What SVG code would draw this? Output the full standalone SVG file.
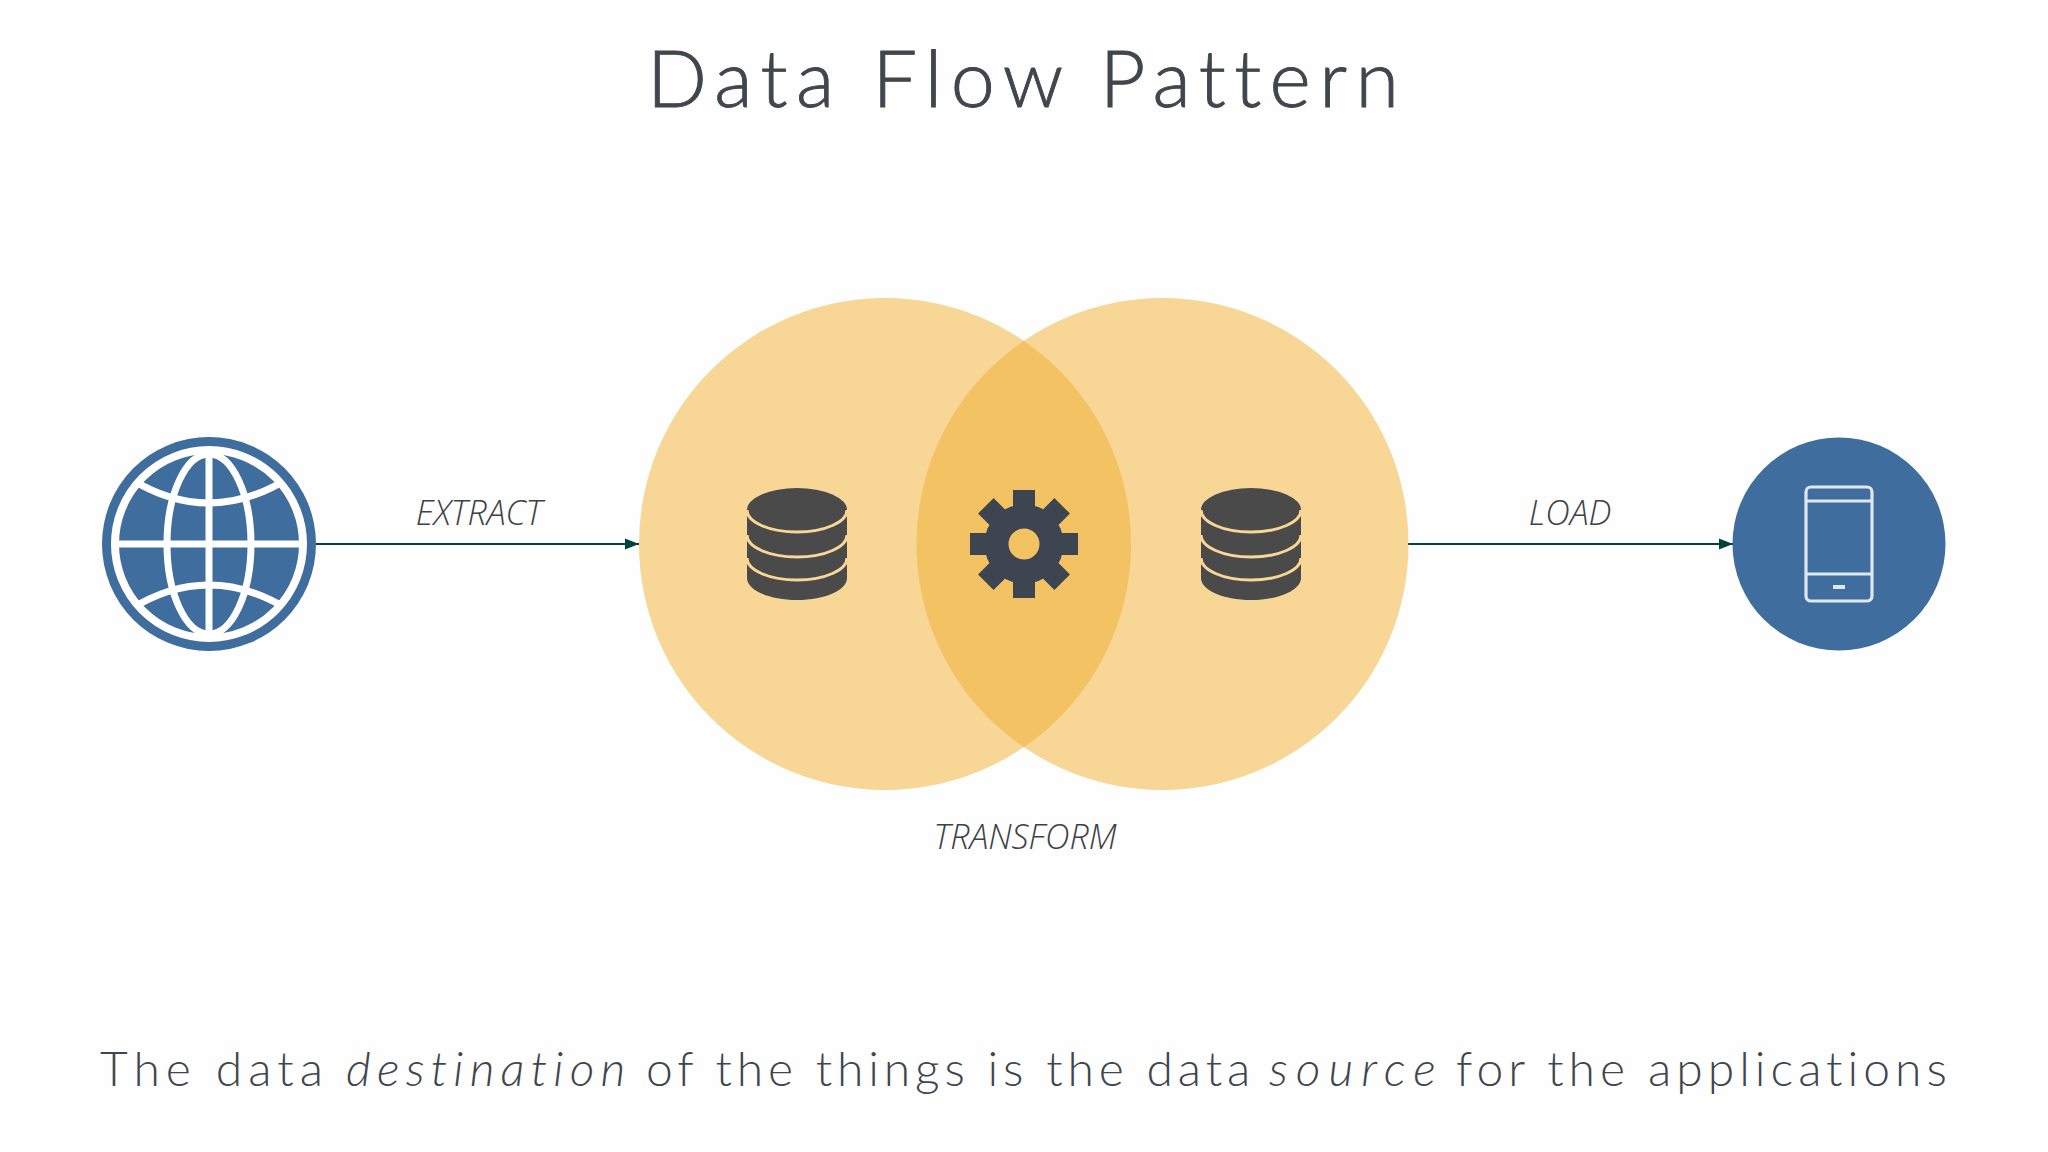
<svg xmlns="http://www.w3.org/2000/svg" width="2048" height="1152" viewBox="0 0 2048 1152">
<style>
text{font-variant-ligatures:none}
.title{font-family:"Lato","Open Sans",sans-serif;font-weight:300;fill:#40464d;stroke:#40464d;stroke-width:.9}
.sub{font-family:"Lato","Open Sans",sans-serif;font-weight:300;font-size:48px;fill:#40464d}
.lab{font-family:"Open Sans","Liberation Sans",sans-serif;font-style:italic;font-weight:350;font-size:34px;fill:#3c4246;text-anchor:middle}
.conn{stroke:#00443f;stroke-width:1.8;fill:none;marker-end:url(#arr)}
.venn{fill:#f0ae2e;fill-opacity:.5}
.db{fill:#4a4a4a}
.dbl{fill:none;stroke:#f7d696;stroke-width:3}
.gl{fill:none;stroke:#fff;stroke-width:7}
</style>
<defs>
<marker id="arr" markerUnits="userSpaceOnUse" markerWidth="14" markerHeight="12" refX="14" refY="6" orient="auto"><path d="M0 0.5L14 6L0 11.5Z" fill="#00443f"/></marker>
<clipPath id="gc"><circle cx="209" cy="544" r="94"/></clipPath>
<g id="dbshape">
<ellipse class="db" cx="0" cy="0" rx="50" ry="22"/>
<path class="db" d="M-50 0V68C-50 80-28 90 0 90S50 80 50 68V0Z"/>
<path class="dbl" d="M-50 0C-50 12-28 22 0 22S50 12 50 0"/>
<path class="dbl" d="M-50 25C-50 37-28 47 0 47S50 37 50 25"/>
<path class="dbl" d="M-50 48C-50 60-28 70 0 70S50 60 50 48"/>
</g>
</defs>
<rect width="2048" height="1152" fill="#fefefe"/>
<g id="title-text"><text class="title" x="647" y="107" font-size="79" textLength="752" lengthAdjust="spacing">Data Flow Pattern</text></g>
<g id="connectors">
<path class="conn" d="M316 544H639"/>
<path class="conn" d="M1408 544H1733"/>
</g>
<g id="transform-venn">
<circle class="venn" cx="885" cy="544" r="246"/>
<circle class="venn" cx="1162.5" cy="544" r="246"/>
<text class="lab" x="1025" y="849">TRANSFORM</text>
</g>
<g id="source-node">
<circle cx="209" cy="544" r="107" fill="#3f6d9e"/>
<circle cx="209" cy="544" r="94" fill="none" stroke="#fff" stroke-width="8"/>
<g clip-path="url(#gc)"><g transform="translate(209 544)">
<path class="gl" d="M-96 0H96M0 -96V96"/>
<ellipse class="gl" cx="0" cy="0" rx="42" ry="90"/>
<path class="gl" d="M-80 -66Q0 -16 80 -66M-80 66Q0 16 80 66"/>
</g></g>
</g>
<text class="lab" x="479" y="525">EXTRACT</text>
<g id="db-left"><use href="#dbshape" x="797" y="510"/></g>
<g id="gear" transform="translate(1024 544)" fill="#3d4650">
<circle r="27.5" fill="none" stroke="#3d4650" stroke-width="24"/>
<g id="teeth">
<rect x="-11" y="-54" width="22" height="18"/>
<rect x="-11" y="-54" width="22" height="18" transform="rotate(45)"/>
<rect x="-11" y="-54" width="22" height="18" transform="rotate(90)"/>
<rect x="-11" y="-54" width="22" height="18" transform="rotate(135)"/>
<rect x="-11" y="-54" width="22" height="18" transform="rotate(180)"/>
<rect x="-11" y="-54" width="22" height="18" transform="rotate(225)"/>
<rect x="-11" y="-54" width="22" height="18" transform="rotate(270)"/>
<rect x="-11" y="-54" width="22" height="18" transform="rotate(315)"/>
</g>
</g>
<g id="db-right"><use href="#dbshape" x="1251" y="510"/></g>
<text class="lab" x="1570" y="525">LOAD</text>
<g id="app-node">
<circle cx="1839" cy="544" r="106.5" fill="#3f6d9e"/>
<g fill="none" stroke="#dfe7f0" stroke-width="3.2">
<rect x="1806" y="487" width="66" height="114" rx="5"/>
<path d="M1806 501H1872M1806 574H1872"/>
</g>
<rect x="1833" y="585" width="12" height="4" fill="#dfe7f0"/>
</g>
<g id="caption">
<text class="sub" y="1086"><tspan x="100" letter-spacing="6">The data</tspan><tspan x="346" font-style="italic" letter-spacing="6.2">destination</tspan><tspan x="646" letter-spacing="4.85">of the things is the data</tspan><tspan x="1269" font-style="italic" letter-spacing="8">source</tspan><tspan x="1456" letter-spacing="5">for the applications</tspan></text>
</g>
</svg>
